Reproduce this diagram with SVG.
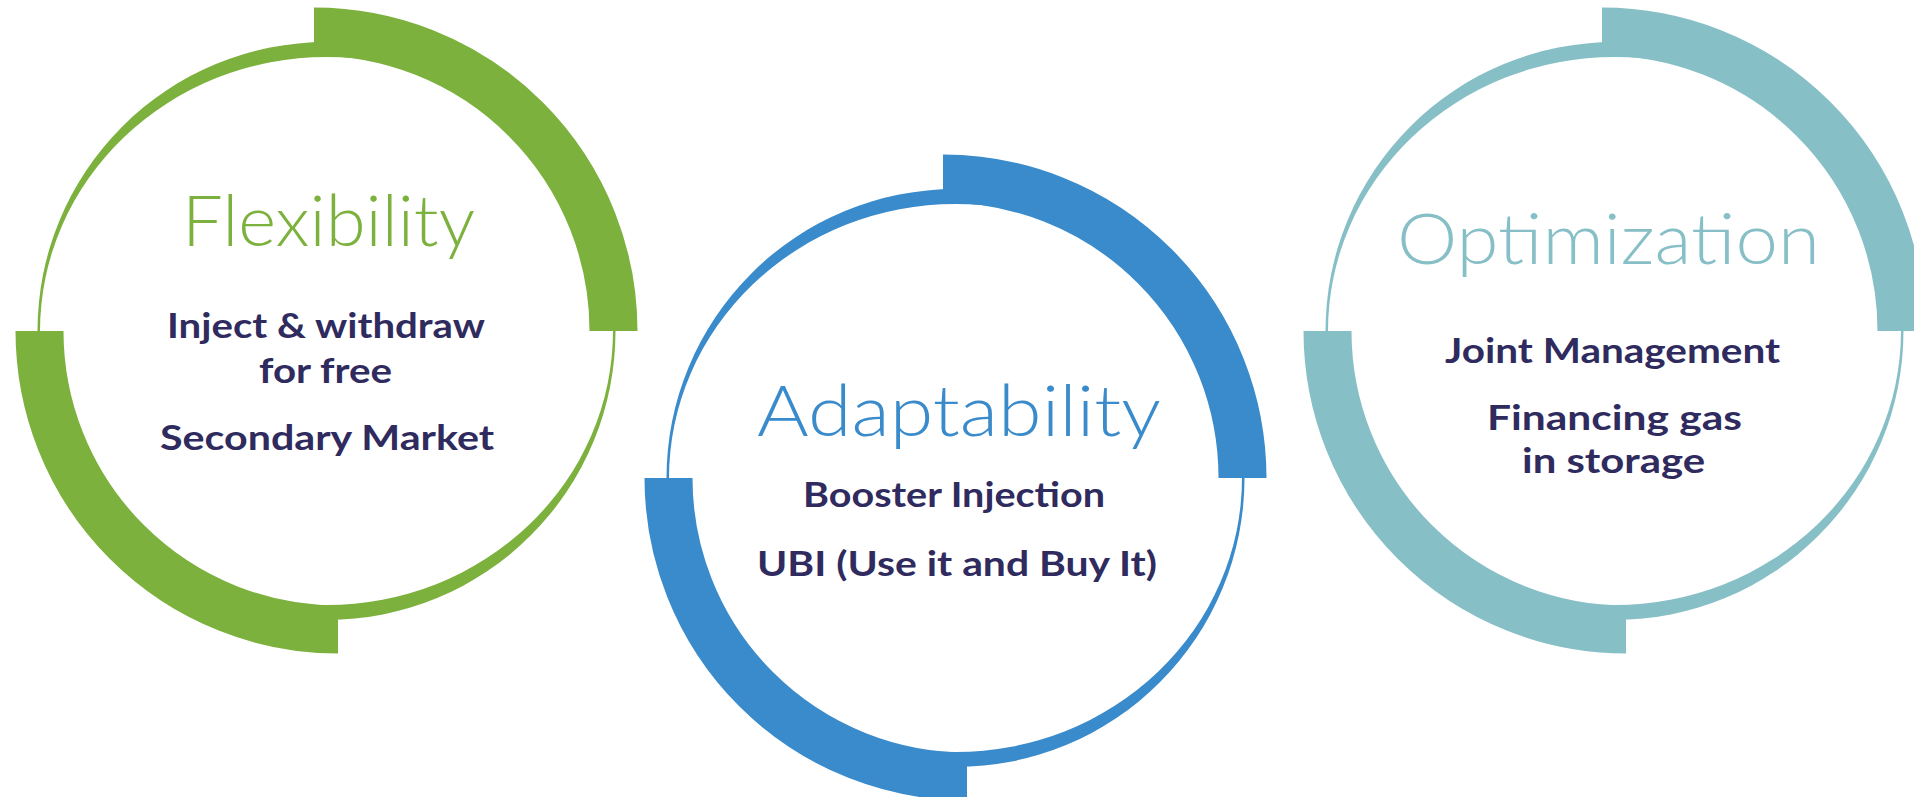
<svg xmlns="http://www.w3.org/2000/svg" xmlns:xlink="http://www.w3.org/1999/xlink" width="1914" height="797" viewBox="0 0 1914 797">
<style>
.title{font-family:Lato,"Open Sans","Liberation Sans",sans-serif;font-weight:300;font-size:70px;text-anchor:middle}
.body{font-family:Lato,"Liberation Sans",sans-serif;font-weight:700;font-size:35px;fill:#2F2B5E;text-anchor:middle}
.arc{fill:none;stroke:currentColor;stroke-width:48}
</style>
<defs>
<g id="ring">
<path fill="currentColor" fill-rule="evenodd" d="M37.5,331 A289,289 0 1 0 615.5,331 A289,289 0 1 0 37.5,331 Z M40,331 A286.5,274 0 1 0 613,331 A286.5,274 0 1 0 40,331 Z"/>
<path class="arc" d="M314,31.5 A299.5,299.5 0 0 1 613.5,331"/>
<path class="arc" d="M39.5,331 A298.5,298.5 0 0 0 338,629.5"/>
</g>
</defs>
<rect width="1914" height="797" fill="#FFFFFF"/>
<g id="connectors"></g>
<g id="flexibility">
<use xlink:href="#ring" href="#ring" style="color:#7CB13D"/>
<text class="title" x="328.5" y="246" fill="#7CB13D" textLength="293" lengthAdjust="spacingAndGlyphs">Flexibility</text>
<text class="body" x="326" y="338" textLength="318" lengthAdjust="spacingAndGlyphs">Inject &amp; withdraw</text>
<text class="body" x="325.5" y="383" textLength="133" lengthAdjust="spacingAndGlyphs">for free</text>
<text class="body" x="327" y="450" textLength="334" lengthAdjust="spacingAndGlyphs">Secondary Market</text>
</g>
<g id="adaptability">
<use xlink:href="#ring" href="#ring" transform="translate(629,147)" style="color:#3A8BCB"/>
<text class="title" x="959" y="436" fill="#3A8BCB" textLength="404" lengthAdjust="spacingAndGlyphs">Adaptability</text>
<text class="body" x="954" y="507" textLength="302" lengthAdjust="spacingAndGlyphs">Booster Injection</text>
<text class="body" x="957" y="576" textLength="400" lengthAdjust="spacingAndGlyphs">UBI (Use it and Buy It)</text>
</g>
<g id="optimization">
<use xlink:href="#ring" href="#ring" transform="translate(1288,0)" style="color:#87BFC7"/>
<text class="title" x="1608.5" y="264" fill="#87BFC7" textLength="423" lengthAdjust="spacingAndGlyphs">Optimization</text>
<text class="body" x="1612.5" y="363" textLength="335" lengthAdjust="spacingAndGlyphs">Joint Management</text>
<text class="body" x="1614.5" y="430" textLength="255" lengthAdjust="spacingAndGlyphs">Financing gas</text>
<text class="body" x="1613.5" y="473" textLength="183" lengthAdjust="spacingAndGlyphs">in storage</text>
</g>
</svg>
